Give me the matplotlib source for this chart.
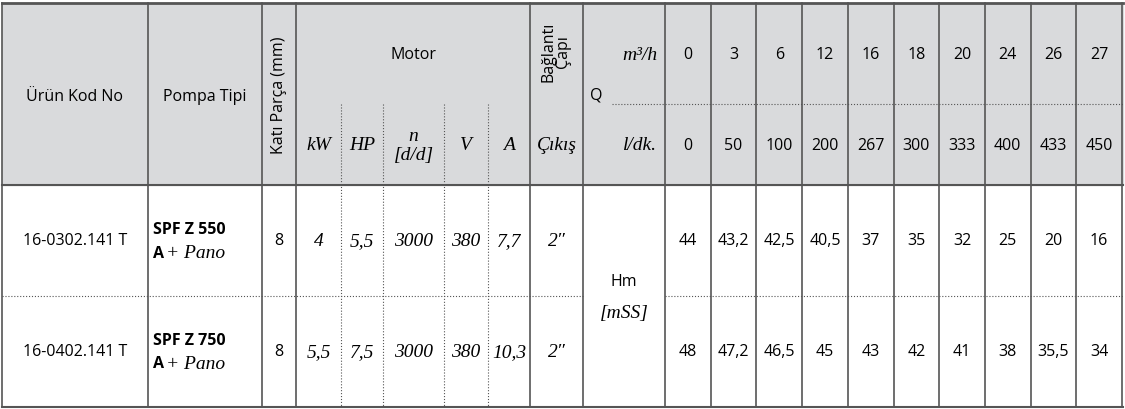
import matplotlib.pyplot as plt

q_m3h = ["0", "3", "6", "12", "16", "18", "20", "24", "26", "27"]
q_ldk = ["0", "50", "100", "200", "267", "300", "333", "400", "433", "450"]
codes = ["16-0302.141 T", "16-0402.141 T"]
pumps = ["SPF Z 550", "SPF Z 750"]
solid = ["8", "8"]
kw = ["4", "5,5"]
hp = ["5,5", "7,5"]
rpm = ["3000", "3000"]
volt = ["380", "380"]
amp = ["7,7", "10,3"]
outlet = ["2\u2033", "2\u2033"]
hm = [["44", "43,2", "42,5", "40,5", "37", "35", "32", "25", "20", "16"],
      ["48", "47,2", "46,5", "45", "43", "42", "41", "38", "35,5", "34"]]

plt.rcParams['font.family'] = ['Open Sans', 'DejaVu Sans']

W, H = 1125, 410
fig = plt.figure(figsize=(W / 100, H / 100), dpi=100)
ax = fig.add_axes([0, 0, 1, 1])
ax.set_xlim(0, W)
ax.set_ylim(H, 0)
ax.axis("off")

top, hmid, hbot, rmid, bot = 4, 105, 186, 297, 408
xs = [2, 148, 262, 296, 341, 383, 444, 488, 530, 583, 665]
qx = [665 + i * 45.7 for i in range(11)]
gray = "#d9dadc"
lc = "#555555"
fs = 11.5
sfs = 14
serif = dict(family="Liberation Serif", style="italic", fontsize=sfs)

ax.add_patch(plt.Rectangle((2, top), W - 4, hbot - top, color=gray, zorder=0))
ax.plot([2, W - 2], [top, top], color=lc, lw=2)
ax.plot([2, W - 2], [hbot, hbot], color=lc, lw=1.5)
ax.plot([2, W - 2], [bot, bot], color=lc, lw=1.5)
ax.plot([2, 583], [rmid, rmid], color=lc, lw=0.8, ls=":")
ax.plot([665, W - 2], [rmid, rmid], color=lc, lw=0.8, ls=":")
ax.plot([qx[0], W - 2], [hmid, hmid], color=lc, lw=0.8, ls=":")
ax.plot([612, 665], [hmid, hmid], color=lc, lw=0.8, ls=":")
for x in [2, 148, 262, 296, 530, 583, 665] + qx[1:]:
    ax.plot([x, x], [top, bot], color=lc, lw=1.2)
for x in xs[4:8]:
    ax.plot([x, x], [hmid, bot], color=lc, lw=0.8, ls=":")

ax.text(75, 97, "Ürün Kod No", ha="center", va="center", fontsize=fs)
ax.text(205, 97, "Pompa Tipi", ha="center", va="center", fontsize=fs)
ax.text(279, 95, "Katı Parça (mm)", ha="center", va="center", fontsize=fs, rotation=90)
ax.text(413, 55, "Motor", ha="center", va="center", fontsize=fs)
ax.text(556, 52, "Bağlantı\nÇapı", ha="center", va="center", fontsize=fs, rotation=90,
        linespacing=0.85)
sub = ["kW", "HP", "n\n[d/d]", "V", "A", "Çıkış"]
for i, s in enumerate(sub):
    ax.text((xs[i + 3] + xs[i + 4]) / 2, 146, s, ha="center", va="center",
            linespacing=1.1, **serif)
ax.text(657, 55, "m³/h", ha="right", va="center", **serif)
ax.text(590, 95, "Q", ha="left", va="center", fontsize=fs)
ax.text(657, 146, "l/dk.", ha="right", va="center", **serif)
for i in range(10):
    cx = (qx[i] + qx[i + 1]) / 2
    ax.text(cx, 55, q_m3h[i], ha="center", va="center", fontsize=fs)
    ax.text(cx, 146, q_ldk[i], ha="center", va="center", fontsize=fs)

for r, yc in enumerate([(hbot + rmid) / 2, (rmid + bot) / 2]):
    ax.text(75, yc, codes[r], ha="center", va="center", fontsize=fs)
    ax.text(153, yc - 11, pumps[r], ha="left", va="center", fontsize=fs, weight="bold")
    ax.text(153, yc + 12, "A", ha="left", va="center", fontsize=fs, weight="bold")
    ax.text(166, yc + 12, "+ Pano", ha="left", va="center", **serif)
    ax.text(279, yc, solid[r], ha="center", va="center", fontsize=fs)
    vals = [kw[r], hp[r], rpm[r], volt[r], amp[r], outlet[r]]
    for i, v in enumerate(vals):
        ax.text((xs[i + 3] + xs[i + 4]) / 2, yc, v, ha="center", va="center", **serif)
    for i in range(10):
        ax.text((qx[i] + qx[i + 1]) / 2, yc, hm[r][i], ha="center", va="center", fontsize=fs)

ax.text(624, 282, "Hm", ha="center", va="center", fontsize=fs)
ax.text(624, 314, "[mSS]", ha="center", va="center", **serif)

fig.savefig("out.png", dpi=100)
